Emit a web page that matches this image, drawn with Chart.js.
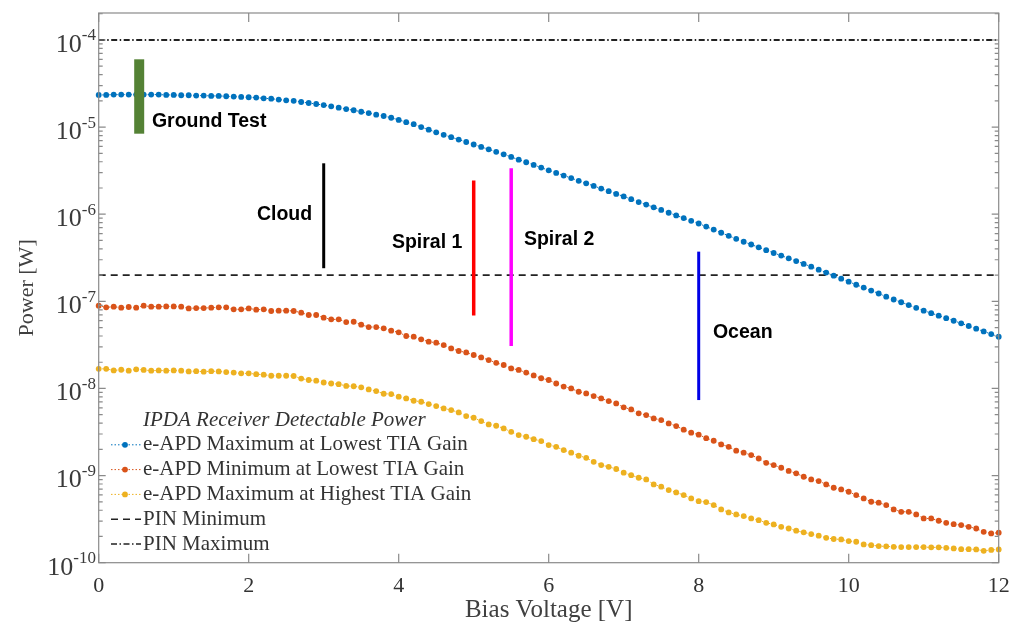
<!DOCTYPE html>
<html>
<head>
<meta charset="utf-8">
<title>IPDA Receiver Detectable Power</title>
<script src="https://cdn.jsdelivr.net/npm/chart.js@4.4.1/dist/chart.umd.min.js"></script>
<style>
  html, body { margin: 0; padding: 0; background: #fff; }
</style>
</head>
<body>
<canvas id="powerChart" width="1022" height="628"></canvas>
<script>
// bias voltage sweep [V]
const biasV = [
  0, 0.1, 0.2, 0.3, 0.4, 0.5, 0.6, 0.7, 0.8, 0.9,
  1, 1.1, 1.2, 1.3, 1.4, 1.5, 1.6, 1.7, 1.8, 1.9,
  2, 2.1, 2.2, 2.3, 2.4, 2.5, 2.6, 2.7, 2.8, 2.9,
  3, 3.1, 3.2, 3.3, 3.4, 3.5, 3.6, 3.7, 3.8, 3.9,
  4, 4.1, 4.2, 4.3, 4.4, 4.5, 4.6, 4.7, 4.8, 4.9,
  5, 5.1, 5.2, 5.3, 5.4, 5.5, 5.6, 5.7, 5.8, 5.9,
  6, 6.1, 6.2, 6.3, 6.4, 6.5, 6.6, 6.7, 6.8, 6.9,
  7, 7.1, 7.2, 7.3, 7.4, 7.5, 7.6, 7.7, 7.8, 7.9,
  8, 8.1, 8.2, 8.3, 8.4, 8.5, 8.6, 8.7, 8.8, 8.9,
  9, 9.1, 9.2, 9.3, 9.4, 9.5, 9.6, 9.7, 9.8, 9.9,
  10, 10.1, 10.2, 10.3, 10.4, 10.5, 10.6, 10.7, 10.8, 10.9,
  11, 11.1, 11.2, 11.3, 11.4, 11.5, 11.6, 11.7, 11.8, 11.9,
  12
];

// e-APD maximum at lowest TIA gain [W]
const apdMaxLowGain = [
  2.34e-5, 2.34e-5, 2.36e-5, 2.36e-5, 2.36e-5, 2.36e-5, 2.36e-5, 2.36e-5, 2.36e-5, 2.34e-5,
  2.34e-5, 2.32e-5, 2.32e-5, 2.30e-5, 2.30e-5, 2.28e-5, 2.28e-5, 2.26e-5, 2.24e-5, 2.22e-5,
  2.20e-5, 2.18e-5, 2.14e-5, 2.12e-5, 2.07e-5, 2.03e-5, 2.00e-5, 1.94e-5, 1.89e-5, 1.84e-5,
  1.79e-5, 1.73e-5, 1.67e-5, 1.61e-5, 1.56e-5, 1.50e-5, 1.45e-5, 1.39e-5, 1.34e-5, 1.28e-5,
  1.21e-5, 1.14e-5, 1.08e-5, 1.00e-5, 9.34e-6, 8.72e-6, 8.16e-6, 7.66e-6, 7.19e-6, 6.74e-6,
  6.31e-6, 5.92e-6, 5.56e-6, 5.20e-6, 4.87e-6, 4.54e-6, 4.23e-6, 3.95e-6, 3.68e-6, 3.43e-6,
  3.19e-6, 2.98e-6, 2.78e-6, 2.60e-6, 2.42e-6, 2.26e-6, 2.11e-6, 1.97e-6, 1.84e-6, 1.71e-6,
  1.60e-6, 1.49e-6, 1.38e-6, 1.29e-6, 1.20e-6, 1.12e-6, 1.04e-6, 9.69e-7, 9.02e-7, 8.40e-7,
  7.82e-7, 7.21e-7, 6.66e-7, 6.13e-7, 5.65e-7, 5.22e-7, 4.83e-7, 4.49e-7, 4.17e-7, 3.87e-7,
  3.59e-7, 3.35e-7, 3.12e-7, 2.90e-7, 2.69e-7, 2.50e-7, 2.31e-7, 2.14e-7, 1.97e-7, 1.82e-7,
  1.68e-7, 1.55e-7, 1.44e-7, 1.33e-7, 1.23e-7, 1.13e-7, 1.05e-7, 9.76e-8, 9.07e-8, 8.42e-8,
  7.82e-8, 7.32e-8, 6.85e-8, 6.41e-8, 5.99e-8, 5.59e-8, 5.21e-8, 4.85e-8, 4.51e-8, 4.21e-8,
  3.92e-8
];

// e-APD minimum at lowest TIA gain [W]
const apdMinLowGain = [
  8.91e-8, 8.53e-8, 8.68e-8, 8.45e-8, 8.61e-8, 8.45e-8, 8.91e-8, 8.68e-8, 8.68e-8, 8.75e-8,
  8.75e-8, 8.68e-8, 8.30e-8, 8.37e-8, 8.37e-8, 8.45e-8, 8.53e-8, 8.53e-8, 8.09e-8, 8.09e-8,
  8.30e-8, 8.02e-8, 8.09e-8, 7.75e-8, 7.81e-8, 7.81e-8, 7.75e-8, 7.41e-8, 6.97e-8, 6.97e-8,
  6.49e-8, 6.21e-8, 6.21e-8, 5.78e-8, 5.83e-8, 5.39e-8, 5.07e-8, 5.07e-8, 4.90e-8, 4.61e-8,
  4.41e-8, 4.00e-8, 3.93e-8, 3.66e-8, 3.44e-8, 3.35e-8, 3.15e-8, 2.88e-8, 2.69e-8, 2.59e-8,
  2.42e-8, 2.27e-8, 2.12e-8, 1.97e-8, 1.86e-8, 1.70e-8, 1.63e-8, 1.52e-8, 1.41e-8, 1.31e-8,
  1.25e-8, 1.14e-8, 1.05e-8, 1.00e-8, 9.17e-9, 8.78e-9, 8.18e-9, 7.69e-9, 7.17e-9, 6.74e-9,
  6.07e-9, 5.75e-9, 5.18e-9, 4.95e-9, 4.53e-9, 4.34e-9, 3.97e-9, 3.70e-9, 3.36e-9, 3.11e-9,
  2.95e-9, 2.69e-9, 2.51e-9, 2.28e-9, 2.14e-9, 1.93e-9, 1.83e-9, 1.72e-9, 1.57e-9, 1.40e-9,
  1.32e-9, 1.23e-9, 1.13e-9, 1.06e-9, 9.70e-10, 9.04e-10, 8.65e-10, 7.92e-10, 7.25e-10, 6.94e-10,
  6.52e-10, 5.97e-10, 5.47e-10, 5.01e-10, 4.88e-10, 4.58e-10, 4.09e-10, 3.84e-10, 3.84e-10, 3.58e-10,
  3.22e-10, 3.22e-10, 3.03e-10, 2.87e-10, 2.77e-10, 2.70e-10, 2.58e-10, 2.47e-10, 2.26e-10, 2.17e-10,
  2.21e-10
];

// e-APD maximum at highest TIA gain [W]
const apdMaxHighGain = [
  1.68e-8, 1.68e-8, 1.61e-8, 1.64e-8, 1.60e-8, 1.66e-8, 1.63e-8, 1.60e-8, 1.61e-8, 1.60e-8,
  1.61e-8, 1.60e-8, 1.57e-8, 1.58e-8, 1.56e-8, 1.58e-8, 1.57e-8, 1.54e-8, 1.52e-8, 1.49e-8,
  1.49e-8, 1.46e-8, 1.44e-8, 1.40e-8, 1.40e-8, 1.40e-8, 1.39e-8, 1.30e-8, 1.25e-8, 1.23e-8,
  1.17e-8, 1.14e-8, 1.12e-8, 1.07e-8, 1.06e-8, 1.03e-8, 9.75e-9, 9.33e-9, 8.70e-9, 8.63e-9,
  8.04e-9, 7.69e-9, 7.23e-9, 7.04e-9, 6.62e-9, 6.28e-9, 5.90e-9, 5.65e-9, 5.31e-9, 4.82e-9,
  4.61e-9, 4.22e-9, 3.87e-9, 3.73e-9, 3.48e-9, 3.18e-9, 2.92e-9, 2.79e-9, 2.62e-9, 2.49e-9,
  2.24e-9, 2.14e-9, 1.96e-9, 1.83e-9, 1.69e-9, 1.60e-9, 1.44e-9, 1.32e-9, 1.26e-9, 1.19e-9,
  1.08e-9, 1.01e-9, 9.44e-10, 9.04e-10, 7.92e-10, 7.45e-10, 6.82e-10, 6.41e-10, 5.97e-10, 5.47e-10,
  5.09e-10, 4.96e-10, 4.59e-10, 4.09e-10, 3.78e-10, 3.58e-10, 3.43e-10, 3.22e-10, 3.08e-10, 2.87e-10,
  2.75e-10, 2.58e-10, 2.47e-10, 2.33e-10, 2.23e-10, 2.13e-10, 2.04e-10, 1.93e-10, 1.87e-10, 1.85e-10,
  1.77e-10, 1.74e-10, 1.62e-10, 1.59e-10, 1.55e-10, 1.54e-10, 1.52e-10, 1.51e-10, 1.51e-10, 1.51e-10,
  1.51e-10, 1.50e-10, 1.50e-10, 1.48e-10, 1.46e-10, 1.43e-10, 1.43e-10, 1.42e-10, 1.37e-10, 1.40e-10,
  1.42e-10
];

// PIN detector limits, flat over the sweep
const pinV = [0, 12];
const pinMinimum = [2e-7, 2e-7];
const pinMaximum = [1e-4, 1e-4];

// flight / test campaigns: operating bias and expected return power span
const campaignNames = ['Ground Test', 'Cloud', 'Spiral 1', 'Spiral 2', 'Ocean'];
const campaignV = [0.54, 3, 5, 5.5, 8];
const campaignLow = [8.4e-6, 2.4e-7, 6.9e-8, 3.07e-8, 7.36e-9];
const campaignHigh = [6.0e-5, 3.84e-6, 2.43e-6, 3.37e-6, 3.72e-7];

const xTicks = [0, 2, 4, 6, 8, 10, 12];
const yTickExps = [-10, -9, -8, -7, -6, -5, -4];

// styling
const campaignColors = ['#548235', '#000000', '#ff0000', '#ff00ff', '#0000e6'];
const campaignWidths = [10, 3, 3.5, 3.5, 3];
const campaignNoteAt = [[0.71, 1.17e-5], [2.11, 1.0e-6], [3.91, 4.67e-7], [5.67, 5.06e-7], [8.19, 4.32e-8]];
const serif = '"Liberation Serif", "Times New Roman", serif';
const sans = '"Liberation Sans", Arial, sans-serif';

const toPoints = (xs, ys) => xs.map((v, i) => ({ x: v, y: ys[i] }));

function seriesSet(label, values, color) {
  return {
    label, data: toPoints(biasV, values),
    borderColor: color, backgroundColor: color,
    borderWidth: 1, borderDash: [1.5, 2],
    pointRadius: 2.9, pointBorderWidth: 0, pointBackgroundColor: color,
    tension: 0, clip: false, order: 1, inLegend: true
  };
}

const datasets = [
  seriesSet('e-APD Maximum at Lowest TIA Gain', apdMaxLowGain, '#0072bd'),
  seriesSet('e-APD Minimum at Lowest TIA Gain', apdMinLowGain, '#d95319'),
  seriesSet('e-APD Maximum at Highest TIA Gain', apdMaxHighGain, '#edb120'),
  {
    label: 'PIN Minimum', data: toPoints(pinV, pinMinimum),
    borderColor: '#222', borderWidth: 1.8, borderDash: [7, 5],
    pointRadius: 0, order: 1, inLegend: true
  },
  {
    label: 'PIN Maximum', data: toPoints(pinV, pinMaximum),
    borderColor: '#222', borderWidth: 2, borderDash: [6, 2.5, 1.5, 2.5],
    pointRadius: 0, order: 1, inLegend: true
  }
];

campaignNames.forEach((name, i) => {
  datasets.push({
    label: name,
    data: [{ x: campaignV[i], y: campaignLow[i] }, { x: campaignV[i], y: campaignHigh[i] }],
    borderColor: campaignColors[i], borderWidth: campaignWidths[i],
    borderCapStyle: 'butt', pointRadius: 0, order: 0, clip: false
  });
});

// box, inward ticks, decade labels, campaign notes and legend
const decorations = {
  id: 'decorations',
  afterDatasetsDraw(chart) {
    const { ctx, chartArea: a, scales: { x, y } } = chart;
    ctx.save();

    ctx.strokeStyle = '#8a8a8a';
    ctx.lineWidth = 1.2;
    ctx.strokeRect(a.left, a.top, a.right - a.left, a.bottom - a.top);

    ctx.beginPath();
    xTicks.forEach(v => {
      const px = x.getPixelForValue(v);
      ctx.moveTo(px, a.bottom); ctx.lineTo(px, a.bottom - 9);
      ctx.moveTo(px, a.top); ctx.lineTo(px, a.top + 9);
    });
    yTickExps.forEach(e => {
      for (let k = 1; k <= 9; k++) {
        const v = k * Math.pow(10, e);
        if (v > y.max) break;
        const py = y.getPixelForValue(v);
        const len = k === 1 ? 7 : 4;
        ctx.moveTo(a.left, py); ctx.lineTo(a.left + len, py);
        ctx.moveTo(a.right, py); ctx.lineTo(a.right - len, py);
      }
    });
    ctx.stroke();

    // 10^n labels
    ctx.fillStyle = '#3a3a3a';
    ctx.textBaseline = 'middle';
    ctx.textAlign = 'right';
    yTickExps.forEach(e => {
      const py = y.getPixelForValue(Math.pow(10, e));
      const sup = '-' + Math.abs(e);
      ctx.font = '17px ' + serif;
      ctx.fillText(sup, 96, py - 4);
      const w = ctx.measureText(sup).width;
      ctx.font = '26px ' + serif;
      ctx.fillText('10', 96 - w, py + 5);
    });

    // campaign names
    ctx.textAlign = 'left';
    ctx.fillStyle = '#000';
    ctx.font = 'bold 19.5px ' + sans;
    campaignNames.forEach((name, i) => {
      const [nv, np] = campaignNoteAt[i];
      ctx.fillText(name, x.getPixelForValue(nv), y.getPixelForValue(np));
    });

    // legend
    const lx = 111, tx = 143;
    let ly = 420;
    ctx.fillStyle = '#333';
    ctx.font = 'italic 21px ' + serif;
    ctx.fillText('IPDA Receiver Detectable Power', tx, ly);
    ctx.font = '21px ' + serif;
    chart.data.datasets.filter(ds => ds.inLegend).forEach(ds => {
      ly += 24.8;
      ctx.save();
      ctx.strokeStyle = ds.borderColor;
      ctx.lineWidth = ds.pointRadius ? 1 : 1.6;
      ctx.setLineDash(ds.borderDash || []);
      ctx.beginPath();
      ctx.moveTo(lx, ly); ctx.lineTo(tx - 2, ly);
      ctx.stroke();
      if (ds.pointRadius) {
        ctx.fillStyle = ds.pointBackgroundColor;
        ctx.beginPath();
        ctx.arc(lx + 14, ly, ds.pointRadius, 0, Math.PI * 2);
        ctx.fill();
      }
      ctx.restore();
      ctx.fillText(ds.label, tx, ly);
    });

    ctx.restore();
  }
};

new Chart(document.getElementById('powerChart'), {
  type: 'line',
  data: { datasets },
  plugins: [decorations],
  options: {
    responsive: false,
    animation: false,
    layout: { padding: { top: 13, right: 23.3, left: 0, bottom: 0 } },
    plugins: { legend: { display: false }, tooltip: { enabled: false } },
    scales: {
      x: {
        type: 'linear', min: 0, max: 12,
        afterFit: s => { s.height = 65.3; },
        grid: { display: false, drawTicks: false },
        border: { display: false },
        ticks: {
          stepSize: 2, autoSkip: false, maxRotation: 0, padding: 10,
          color: '#333', font: { family: serif, size: 22 }
        },
        title: {
          display: true, text: 'Bias Voltage [V]', color: '#404040',
          font: { family: serif, size: 25 }, padding: { top: 0, bottom: 3 }
        }
      },
      y: {
        type: 'logarithmic', min: 1e-10, max: 2.04e-4,
        afterFit: s => { s.width = 98.7; },
        grid: { display: false, drawTicks: false },
        border: { display: false },
        ticks: { display: false },
        title: {
          display: true, text: 'Power [W]', color: '#404040',
          font: { family: serif, size: 22 }, padding: { top: 14, bottom: 0 }
        }
      }
    }
  }
});
</script>
</body>
</html>
